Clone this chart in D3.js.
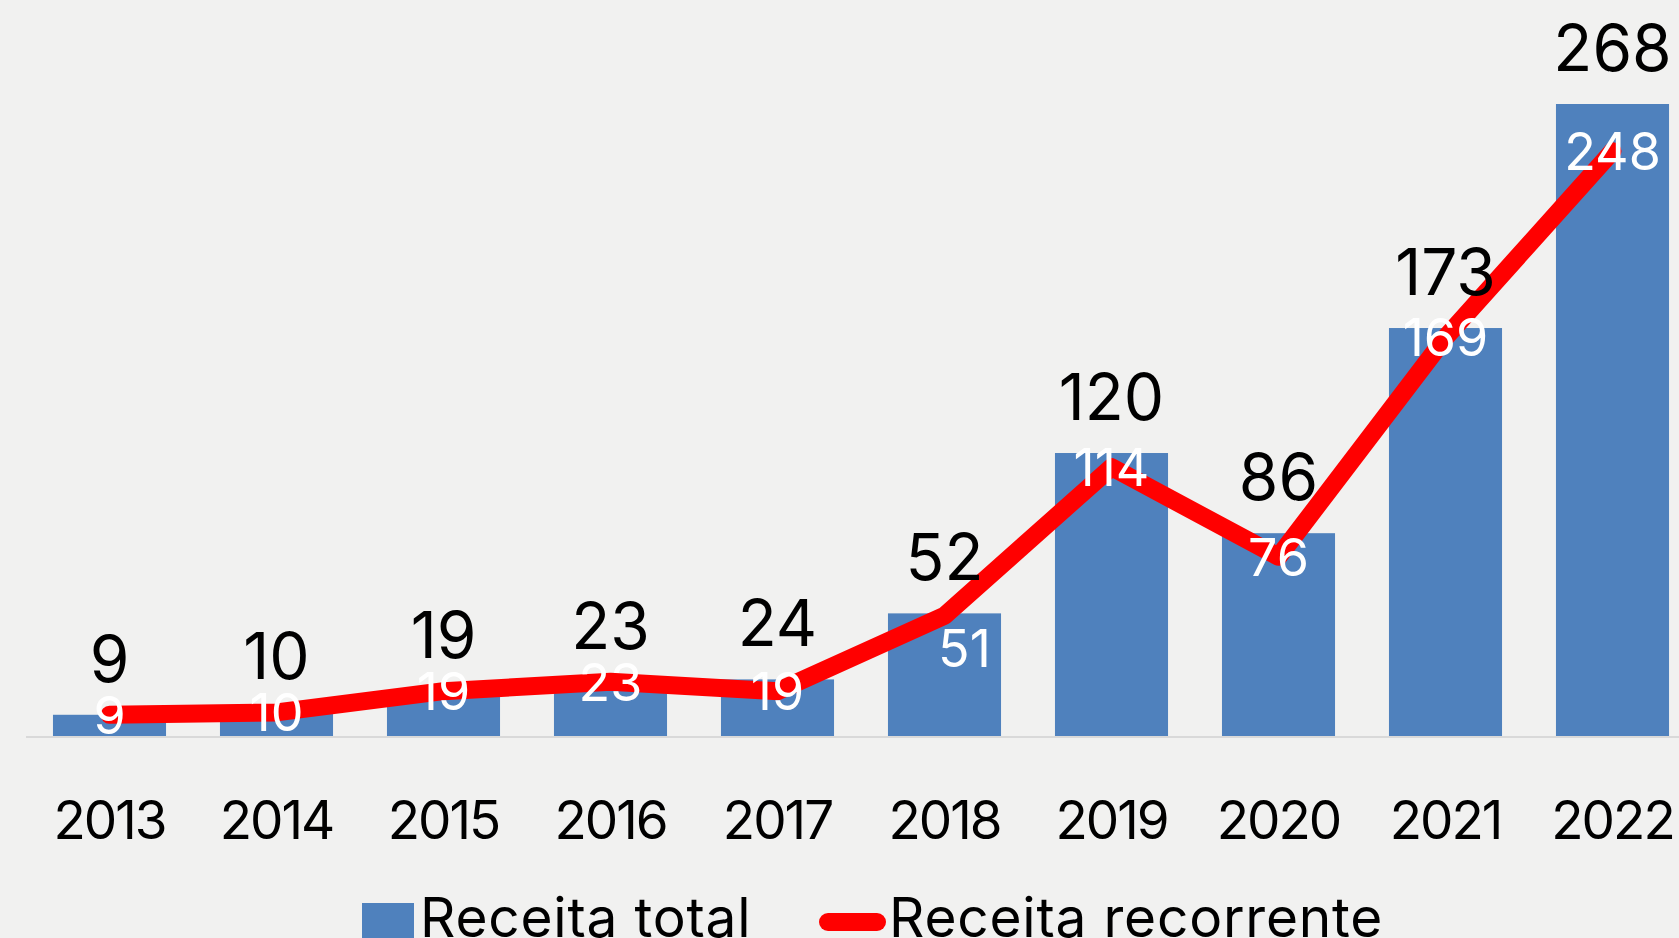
<!DOCTYPE html>
<html>
<head>
<meta charset="utf-8">
<script src="https://cdn.jsdelivr.net/npm/d3@7"></script>
<style>
  body { margin: 0; background: #f1f1f0; overflow: hidden; }
  text { font-family: Inter, "Open Sans", sans-serif; }
</style>
</head>
<body>
<div id="graph"></div>
<script>
const years = ["2013", "2014", "2015", "2016", "2017", "2018", "2019", "2020", "2021", "2022"]
const receitaTotal = [9, 10, 19, 23, 24, 52, 120, 86, 173, 268]
const receitaRecorrente = [9, 10, 19, 23, 19, 51, 114, 76, 169, 248]
const legendLabels = ["Receita total", "Receita recorrente"]

const width = 1679
const height = 938
const barColor = "#4f81bd"
const lineColor = "#ff0000"

// label nudged by hand in the original (2018 sits inside its bar)
const recLabelShift = { "2018": [20, 32] }

const svg = d3.select("#graph").append("svg")
  .attr("width", width)
  .attr("height", height)

svg.append("rect")
  .attr("width", width)
  .attr("height", height)
  .attr("fill", "#f1f1f0")

// scales
const x = d3.scaleBand()
  .domain(years)
  .range([26, 1696])
  .paddingInner(0.323)
  .paddingOuter(0.1615)

const y = d3.scaleLinear()
  .domain([0, 268])
  .range([736, 104])

const cx = d => x(d) + x.bandwidth() / 2

// bars
svg.selectAll(".bar")
  .data(years)
  .enter()
  .append("rect")
  .attr("class", "bar")
  .attr("x", d => x(d))
  .attr("width", x.bandwidth())
  .attr("y", (d, i) => y(receitaTotal[i]))
  .attr("height", (d, i) => y(0) - y(receitaTotal[i]))
  .attr("fill", barColor)

// baseline
svg.append("line")
  .attr("x1", 26)
  .attr("x2", width)
  .attr("y1", y(0) + 1)
  .attr("y2", y(0) + 1)
  .attr("stroke", "#d9d9d9")
  .attr("stroke-width", 2)

// line
const line = d3.line()
  .x((d, i) => cx(years[i]))
  .y(d => y(d))

svg.append("path")
  .datum(receitaRecorrente)
  .attr("d", line)
  .attr("fill", "none")
  .attr("stroke", lineColor)
  .attr("stroke-width", 18)
  .attr("stroke-linejoin", "round")
  .attr("stroke-linecap", "round")

// labels for total (above bars)
svg.selectAll(".lblTotal")
  .data(receitaTotal)
  .enter()
  .append("text")
  .attr("x", (d, i) => cx(years[i]))
  .attr("y", d => y(d) - 33)
  .attr("text-anchor", "middle")
  .style("font-size", "64px")
  .attr("fill", "#000")
  .text(d => d)

// labels for recorrente (on the line)
svg.selectAll(".lblRec")
  .data(receitaRecorrente)
  .enter()
  .append("text")
  .attr("x", (d, i) => cx(years[i]) + (recLabelShift[years[i]] || [0, 0])[0])
  .attr("y", (d, i) => y(d) + 19 + (recLabelShift[years[i]] || [0, 0])[1])
  .attr("text-anchor", "middle")
  .style("font-size", "52px")
  .attr("fill", "#fff")
  .text(d => d)

// x axis labels
svg.selectAll(".year")
  .data(years)
  .enter()
  .append("text")
  .attr("x", d => cx(d))
  .attr("y", 839)
  .attr("text-anchor", "middle")
  .style("font-size", "53px")
  .style("letter-spacing", "-2px")
  .attr("fill", "#000")
  .text(d => d)

// legend
const legend = svg.append("g")

legend.append("rect")
  .attr("x", 362)
  .attr("y", 903)
  .attr("width", 52)
  .attr("height", 40)
  .attr("fill", barColor)

legend.append("text")
  .attr("x", 420)
  .attr("y", 937)
  .style("font-size", "55px")
  .style("letter-spacing", "0.8px")
  .text(legendLabels[0])

legend.append("line")
  .attr("x1", 828)
  .attr("x2", 877)
  .attr("y1", 922)
  .attr("y2", 922)
  .attr("stroke", lineColor)
  .attr("stroke-width", 18)
  .attr("stroke-linecap", "round")

legend.append("text")
  .attr("x", 889)
  .attr("y", 937)
  .style("font-size", "55px")
  .style("letter-spacing", "0.8px")
  .text(legendLabels[1])
</script>
</body>
</html>
